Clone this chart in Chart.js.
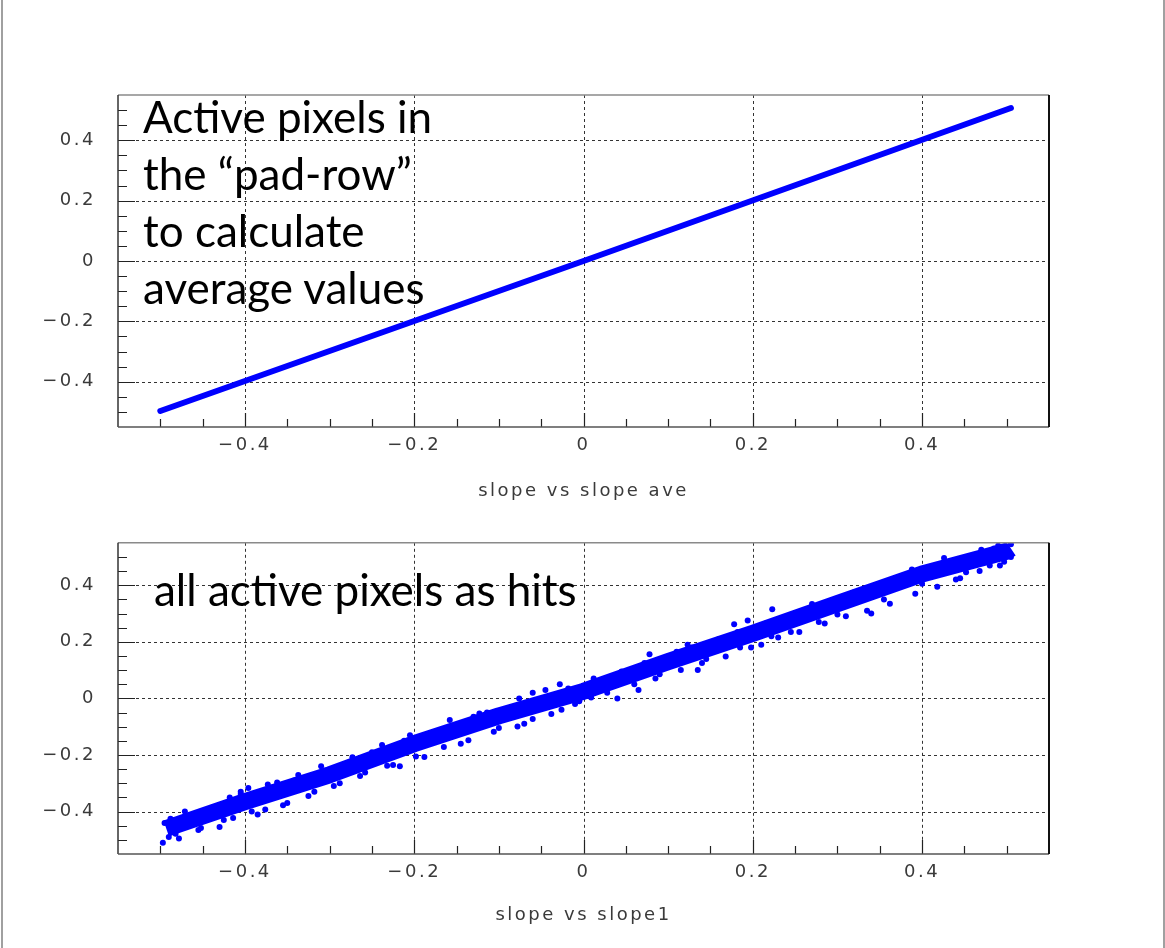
<!DOCTYPE html>
<html>
<head>
<meta charset="utf-8">
<script src="https://cdn.jsdelivr.net/npm/chart.js@4.4.0/dist/chart.umd.min.js"></script>
<style>
  html, body { margin: 0; padding: 0; background: #fff; }
  #page { position: relative; width: 1165px; height: 948px; overflow: hidden; }
  #page:before, #page:after { content: ""; position: absolute; top: 0; bottom: 0; width: 2px; background: #a0a0a0; }
  #page:before { left: 1px; }
  #page:after { right: 0; }
  canvas { position: absolute; left: 0; }
  #topChart { top: 0; }
  #bottomChart { top: 510px; }
  .note { position: absolute; font-family: Lato, "Open Sans", sans-serif; font-size: 44px; line-height: 57px; color: #000; white-space: nowrap; }
</style>
</head>
<body>
<div id="page">
  <canvas id="topChart" width="1165" height="510"></canvas>
  <canvas id="bottomChart" width="1165" height="438"></canvas>
  <div class="note" style="left:143px; top:88px;">Active pixels in<br>the “pad-row”<br>to calculate<br>average values</div>
  <div class="note" style="left:154px; top:561px;">all active pixels as hits</div>
</div>
<script>
// axis setup, same for both pads
const axisMin = -0.55;
const axisMax = 0.55;
const majorTicks = [-0.4, -0.2, 0, 0.2, 0.4];
const tickLabels = ['\u22120.4', '\u22120.2', '0', '0.2', '0.4'];
const minorTicks = [-0.5, -0.45, -0.4, -0.35, -0.3, -0.25, -0.2, -0.15, -0.1, -0.05, 0,
                    0.05, 0.1, 0.15, 0.2, 0.25, 0.3, 0.35, 0.4, 0.45, 0.5];

// top pad: slope vs slope ave (tight line)
const aveX = [-0.5, 0, 0.505];
const aveY = [-0.497, 0, 0.507];

// bottom pad: slope vs slope1, the core of the band ...
const bandX = [-0.493, -0.4, -0.3, -0.2, -0.1, 0, 0.1, 0.2, 0.3, 0.4, 0.5, 0.505];
const bandY = [-0.46, -0.365, -0.27, -0.16, -0.062, 0.025, 0.13, 0.23, 0.335, 0.44, 0.52, 0.53];

// ... and the hits sitting on its edges
const hitsX = [-0.497, -0.495, -0.49, -0.485, -0.478, -0.471, -0.465, -0.455, -0.445, -0.43,
               -0.418, -0.414, -0.405, -0.396, -0.385, -0.376, -0.373, -0.362, -0.35, -0.337,
               -0.325, -0.31, -0.295, -0.273, -0.264, -0.25, -0.238, -0.225, -0.217, -0.205,
               -0.188, -0.17, -0.158, -0.145, -0.13, -0.123, -0.114, -0.1, -0.078, -0.076,
               -0.06, -0.06, -0.045, -0.028, -0.026, -0.01, 0.009, 0.02, 0.04, 0.055,
               0.065, 0.078, 0.09, 0.11, 0.123, 0.135, 0.145, 0.16, 0.178, 0.185,
               0.194, 0.21, 0.222, 0.223, 0.245, 0.26, 0.27, 0.278, 0.3, 0.32,
               0.34, 0.355, 0.37, 0.388, 0.4, 0.426, 0.44, 0.452, 0.47, 0.48,
               0.497, 0.505, 0.505, 0.49,
               -0.488, -0.482, -0.462, -0.452, -0.438, -0.425, -0.405, -0.392, -0.368, -0.355,
               -0.342, -0.318, -0.305, -0.288, -0.276, -0.258, -0.245, -0.232, -0.212, -0.198,
               -0.182, -0.165, -0.15, -0.136, -0.118, -0.106, -0.088, -0.07, -0.052, -0.038,
               -0.018, -0.005, 0.012, 0.028, 0.045, 0.06, 0.072, 0.085, 0.098, 0.115,
               0.128, 0.14, 0.155, 0.168, 0.182, 0.198, 0.215, 0.23, 0.24, 0.255,
               0.265, 0.285, 0.295, 0.31, 0.325, 0.335, 0.35, 0.362, 0.378, 0.392,
               0.41, 0.418, 0.435, 0.445, 0.46, 0.468, 0.485, 0.492];
const hitsY = [-0.51, -0.44, -0.49, -0.43, -0.495, -0.40, -0.425, -0.465, -0.395, -0.455,
               -0.35, -0.423, -0.33, -0.317, -0.41, -0.393, -0.304, -0.297, -0.37, -0.271,
               -0.345, -0.24, -0.31, -0.208, -0.274, -0.19, -0.165, -0.235, -0.24, -0.13,
               -0.207, -0.12, -0.076, -0.16, -0.065, -0.053, -0.05, -0.105, -0.099, 0.0,
               -0.073, 0.02, 0.03, 0.05, -0.04, -0.02, 0.003, 0.06, 0.0, 0.095,
               0.03, 0.156, 0.085, 0.165, 0.19, 0.10, 0.139, 0.21, 0.262, 0.18,
               0.275, 0.19, 0.22, 0.315, 0.235, 0.31, 0.334, 0.27, 0.297, 0.375,
               0.30, 0.35, 0.42, 0.456, 0.405, 0.496, 0.42, 0.446, 0.525, 0.47,
               0.483, 0.5, 0.545, 0.54,
               -0.425, -0.478, -0.41, -0.458, -0.385, -0.43, -0.338, -0.4, -0.315, -0.378,
               -0.29, -0.33, -0.255, -0.3, -0.225, -0.262, -0.195, -0.238, -0.15, -0.205,
               -0.13, -0.172, -0.1, -0.148, -0.075, -0.118, -0.045, -0.09, -0.01, -0.055,
               0.035, -0.01, 0.07, 0.02, 0.095, 0.05, 0.125, 0.07, 0.145, 0.1,
               0.18, 0.125, 0.2, 0.148, 0.235, 0.18, 0.265, 0.215, 0.28, 0.235,
               0.3, 0.265, 0.345, 0.29, 0.37, 0.31, 0.395, 0.335, 0.43, 0.37,
               0.465, 0.395, 0.485, 0.425, 0.505, 0.45, 0.53, 0.47];

const blue = '#0000ff';
const axisFont = { family: '"DejaVu Sans", sans-serif', size: 18 };
const axisColor = '#3a3a3a';

const pairs = (xs, ys) => xs.map((x, i) => ({ x, y: ys[i] }));

// ROOT-like frame: dotted grid, ticks inside the pad, darker right/bottom edges
const rootFrame = {
  id: 'rootFrame',
  beforeDraw(chart) {
    chart.ctx.letterSpacing = '2.5px';
  },
  beforeDatasetsDraw(chart) {
    const { ctx, chartArea: a, scales: { x, y } } = chart;
    ctx.letterSpacing = '0px';
    ctx.save();
    ctx.strokeStyle = '#333';
    ctx.lineWidth = 1;
    ctx.setLineDash([3, 3]);
    ctx.beginPath();
    majorTicks.forEach(v => {
      const px = Math.round(x.getPixelForValue(v)) + 0.5;
      ctx.moveTo(px, a.top);
      ctx.lineTo(px, a.bottom);
      const py = Math.round(y.getPixelForValue(v)) + 0.5;
      ctx.moveTo(a.left, py);
      ctx.lineTo(a.right, py);
    });
    ctx.stroke();
    ctx.setLineDash([]);
    ctx.strokeStyle = '#222';
    ctx.lineWidth = 1.2;
    ctx.beginPath();
    minorTicks.forEach(v => {
      const major = majorTicks.some(m => Math.abs(m - v) < 1e-9);
      const px = Math.round(x.getPixelForValue(v)) + 0.5;
      ctx.moveTo(px, a.bottom);
      ctx.lineTo(px, a.bottom - (major ? 14 : 8));
      const py = Math.round(y.getPixelForValue(v)) + 0.5;
      ctx.moveTo(a.left, py);
      ctx.lineTo(a.left + (major ? 17 : 9), py);
    });
    ctx.stroke();
    ctx.restore();
  },
  afterDatasetsDraw(chart) {
    const { ctx, chartArea: a } = chart;
    ctx.save();
    const edge = (color, w, x1, y1, x2, y2) => {
      ctx.strokeStyle = color;
      ctx.lineWidth = w;
      ctx.beginPath();
      ctx.moveTo(x1, y1);
      ctx.lineTo(x2, y2);
      ctx.stroke();
    };
    edge('#8a8a8a', 1.5, a.left, a.top, a.right, a.top);
    edge('#333', 1.5, a.left, a.top, a.left, a.bottom);
    edge('#555', 1.5, a.left, a.bottom, a.right, a.bottom);
    edge('#111', 2, a.right, a.top, a.right, a.bottom);
    ctx.restore();
  }
};

function makeChart(id, datasets, title, padTop, xHeight, titlePad) {
  return new Chart(document.getElementById(id), {
    type: 'scatter',
    data: { datasets },
    options: {
      responsive: false,
      animation: false,
      devicePixelRatio: 1,
      layout: { padding: { left: 0, right: 116, top: padTop, bottom: 0 } },
      plugins: { legend: { display: false }, tooltip: { enabled: false } },
      scales: {
        x: {
          type: 'linear', min: axisMin, max: axisMax,
          afterBuildTicks: s => { s.ticks = majorTicks.map(value => ({ value })); },
          afterFit: s => { s.height = xHeight; },
          grid: { display: false, drawTicks: false },
          border: { display: false },
          ticks: { font: axisFont, color: axisColor, padding: 8, maxRotation: 0, autoSkip: false,
                   callback: (v, i) => tickLabels[i] },
          title: { display: true, text: title, font: axisFont, color: axisColor,
                   padding: { top: 0, bottom: titlePad } }
        },
        y: {
          type: 'linear', min: axisMin, max: axisMax,
          afterBuildTicks: s => { s.ticks = majorTicks.map(value => ({ value })); },
          afterFit: s => { s.width = 118; },
          grid: { display: false, drawTicks: false },
          border: { display: false },
          ticks: { font: axisFont, color: axisColor, padding: 22, autoSkip: false,
                   callback: (v, i) => tickLabels[i] }
        }
      }
    },
    plugins: [rootFrame]
  });
}

makeChart('topChart', [{
  data: pairs(aveX, aveY),
  showLine: true,
  borderColor: blue,
  borderWidth: 6,
  borderCapStyle: 'round',
  pointRadius: 0
}], 'slope vs slope ave', 95, 83, 8);

makeChart('bottomChart', [{
  data: pairs(bandX, bandY),
  showLine: true,
  borderColor: blue,
  borderWidth: 17,
  borderCapStyle: 'butt',
  borderJoinStyle: 'round',
  pointRadius: 0
}, {
  data: pairs(hitsX, hitsY),
  backgroundColor: blue,
  borderWidth: 0,
  pointRadius: 3
}], 'slope vs slope1', 12, 94, 22);
</script>
</body>
</html>
